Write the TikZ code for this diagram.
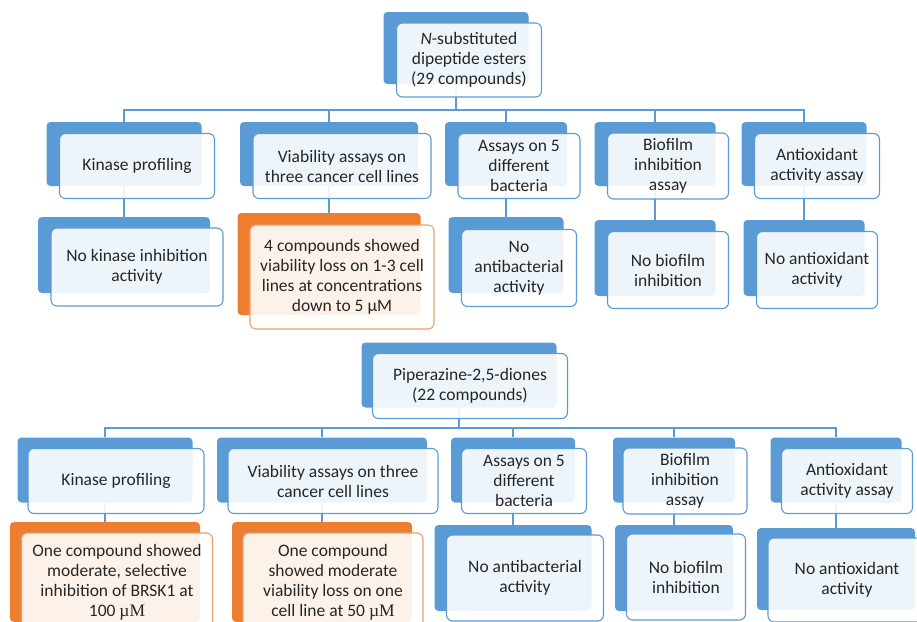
\documentclass[tikz,border=0pt]{standalone}
\usepackage{fontspec}
\setmainfont{Carlito}
\newfontfamily\unitfont{Liberation Serif}
\usetikzlibrary{backgrounds}
\definecolor{boxblue}{HTML}{5B9BD5}
\definecolor{boxorange}{HTML}{ED7D31}
\tikzset{
  boxsize/.style 2 args={minimum width=#1pt, minimum height=#2pt},
  backbox/.style={fill=boxblue, rounded corners=4pt, inner sep=0pt},
  backhot/.style={backbox, fill=boxorange},
  frontbox/.style={draw=boxblue, line width=1.1pt, fill=white, fill opacity=0.9,
    text opacity=1, rounded corners=6pt, align=center, text=black!85, inner sep=0pt,
    font=\fontsize{17.5}{20}\selectfont},
  fronthot/.style={frontbox, draw=boxorange!75},
  link/.style={draw=boxblue, line width=1.3pt},
}

\begin{document}
\begin{tikzpicture}[x=1pt,y=-1pt]
\useasboundingbox (0,0) rectangle (917,621);
\clip (0,0) rectangle (917,621);
\coordinate (bus1) at (0,110);
\coordinate (bus2) at (0,428);
% dipeptide esters
\node[backbox, boxsize={145}{72}] (r1b) at (456,48) {};
\node[frontbox, boxsize={145}{74}] (r1) at (469,60) {\textit{N}-substituted\\dipeptide esters\\(29 compounds)};
\node[backbox, boxsize={155}{64}] (k1b) at (124,154) {};
\node[frontbox, boxsize={155}{65}] (k1) at (137,166) {Kinase profiling};
\node[backbox, boxsize={178}{64}] (v1b) at (329,154) {};
\node[frontbox, boxsize={178}{65}] (v1) at (342,166) {Viability assays on\\three cancer cell lines};
\node[backbox, boxsize={122}{64}] (a1b) at (506,154) {};
\node[frontbox, boxsize={122}{65}] (a1) at (519,166) {Assays on 5\\different\\bacteria};
\node[backbox, boxsize={121}{64}] (b1b) at (655,154) {};
\node[frontbox, boxsize={121}{66}] (b1) at (668,166) {Biofilm\\inhibition\\assay};
\node[backbox, boxsize={125}{64}] (o1b) at (804,154) {};
\node[frontbox, boxsize={125}{65}] (o1) at (817,166) {Antioxidant\\activity assay};
\node[backbox, boxsize={172}{76}] (k1rb) at (124,255) {};
\node[frontbox, boxsize={172}{78}] (k1r) at (137,267) {No kinase inhibition\\activity};
\node[backhot, boxsize={183}{102}] (v1rb) at (329,264) {};
\node[fronthot, boxsize={184}{104}] (v1r) at (342,277) {4 compounds showed\\viability loss on 1-3 cell\\lines at concentrations\\down to 5 µM};
\node[backbox, boxsize={115}{76}] (a1rb) at (506,255) {};
\node[frontbox, boxsize={115}{77}] (a1r) at (519,268) {No\\antibacterial\\activity};
\node[backbox, boxsize={121}{76}] (b1rb) at (655,258) {};
\node[frontbox, boxsize={121}{77}] (b1r) at (668,270) {No biofilm\\inhibition};
\node[backbox, boxsize={121}{76}] (o1rb) at (804,258) {};
\node[frontbox, boxsize={121}{77}] (o1r) at (817,270) {No antioxidant\\activity};
% piperazine-2,5-diones
\node[backbox, boxsize={195}{65}] (r2b) at (459,375) {};
\node[frontbox, boxsize={195}{65}] (r2) at (470,386) {Piperazine-2,5-diones\\(22 compounds)};
\node[backbox, boxsize={175}{65}] (k2b) at (105,470) {};
\node[frontbox, boxsize={176}{65}] (k2) at (116,481) {Kinase profiling};
\node[backbox, boxsize={210}{65}] (v2b) at (322,470) {};
\node[frontbox, boxsize={210}{65}] (v2) at (333,481) {Viability assays on three\\cancer cell lines};
\node[backbox, boxsize={124}{65}] (a2b) at (513,470) {};
\node[frontbox, boxsize={125}{65}] (a2) at (524,481) {Assays on 5\\different\\bacteria};
\node[backbox, boxsize={122}{65}] (b2b) at (674,470) {};
\node[frontbox, boxsize={124}{66}] (b2) at (685,481) {Biofilm\\inhibition\\assay};
\node[backbox, boxsize={131}{65}] (o2b) at (836,470) {};
\node[frontbox, boxsize={131}{65}] (o2) at (847,481) {Antioxidant\\activity assay};
\node[backhot, boxsize={190}{100}] (k2rb) at (105,572) {};
\node[fronthot, boxsize={191}{98}] (k2r) at (117,582) {One compound showed\\moderate, selective\\inhibition of BRSK1 at\\100 {\unitfont µM}};
\node[backhot, boxsize={180}{100}] (v2rb) at (322,572) {};
\node[fronthot, boxsize={180}{98}] (v2r) at (333,582) {One compound\\showed moderate\\viability loss on one\\cell line at 50 {\unitfont µM}};
\node[backbox, boxsize={157}{86}] (a2rb) at (513,568) {};
\node[frontbox, boxsize={157}{86}] (a2r) at (525,578) {No antibacterial\\activity};
\node[backbox, boxsize={118}{86}] (b2rb) at (674,568) {};
\node[frontbox, boxsize={119}{86}] (b2r) at (686,577) {No biofilm\\inhibition};
\node[backbox, boxsize={158}{82}] (o2rb) at (836,569) {};
\node[frontbox, boxsize={158}{84}] (o2r) at (847,580) {No antioxidant\\activity};
% connectors
\begin{scope}[on background layer]
\foreach \col in {k1,v1,a1,b1,o1}
  \draw[link] (r1b) -- (r1b |- bus1) -| (\col b);
\foreach \col in {k1,v1,a1,b1,o1}
  \draw[link] (\col b) -- (\col rb);
\foreach \col in {k2,v2,a2,b2,o2}
  \draw[link] (r2b) -- (r2b |- bus2) -| (\col b);
\foreach \col in {k2,v2,a2,b2,o2}
  \draw[link] (\col b) -- (\col rb);
\end{scope}
\end{tikzpicture}
\end{document}
